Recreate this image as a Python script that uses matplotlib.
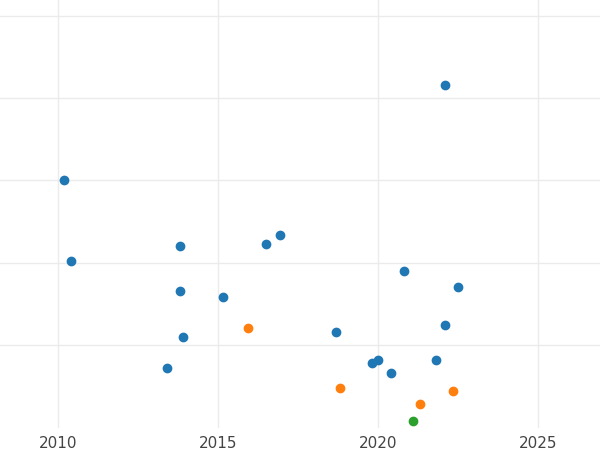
import matplotlib

matplotlib.use("Agg")
import matplotlib.pyplot as plt

# blue group
blue_x = [2010.2, 2010.4, 2013.8, 2013.8, 2013.9, 2013.4, 2015.15, 2016.5, 2016.95,
          2018.7, 2019.8, 2020.0, 2020.4, 2020.8, 2021.8, 2022.1, 2022.1, 2022.5]
blue_y = [3.00, 2.02, 2.20, 1.66, 1.09, 0.72, 1.58, 2.23, 2.34,
          1.16, 0.78, 0.81, 0.66, 1.90, 0.82, 1.24, 4.16, 1.70]
# orange group
orange_x = [2015.95, 2018.8, 2021.3, 2022.35]
orange_y = [1.21, 0.47, 0.28, 0.44]
# green group
green_x = [2021.1]
green_y = [0.08]

x_ticks = [2010, 2015, 2020, 2025]
y_grid = [1, 2, 3, 4, 5]

fig = plt.figure(figsize=(6, 4.5), dpi=100)
ax = fig.add_axes([0, 0.049, 1, 0.951])
ax.scatter(blue_x, blue_y, s=36, color="#1f77b4", zorder=3)
ax.scatter(orange_x, orange_y, s=36, color="#ff7f0e", zorder=3)
ax.scatter(green_x, green_y, s=36, color="#2ca02c", zorder=3)

ax.set_xlim(2008.19, 2026.94)
ax.set_ylim(-0.01, 5.19)
ax.set_xticks(x_ticks)
ax.set_yticks(y_grid)
ax.set_yticklabels([])
ax.tick_params(axis="both", length=0, labelsize=11, labelcolor="#444444", pad=6)
ax.grid(color="#ebebeb", linewidth=1)
ax.set_axisbelow(True)
for spine in ax.spines.values():
    spine.set_visible(False)
fig.patch.set_facecolor("white")
fig.savefig("out.png", dpi=100, facecolor="white")
